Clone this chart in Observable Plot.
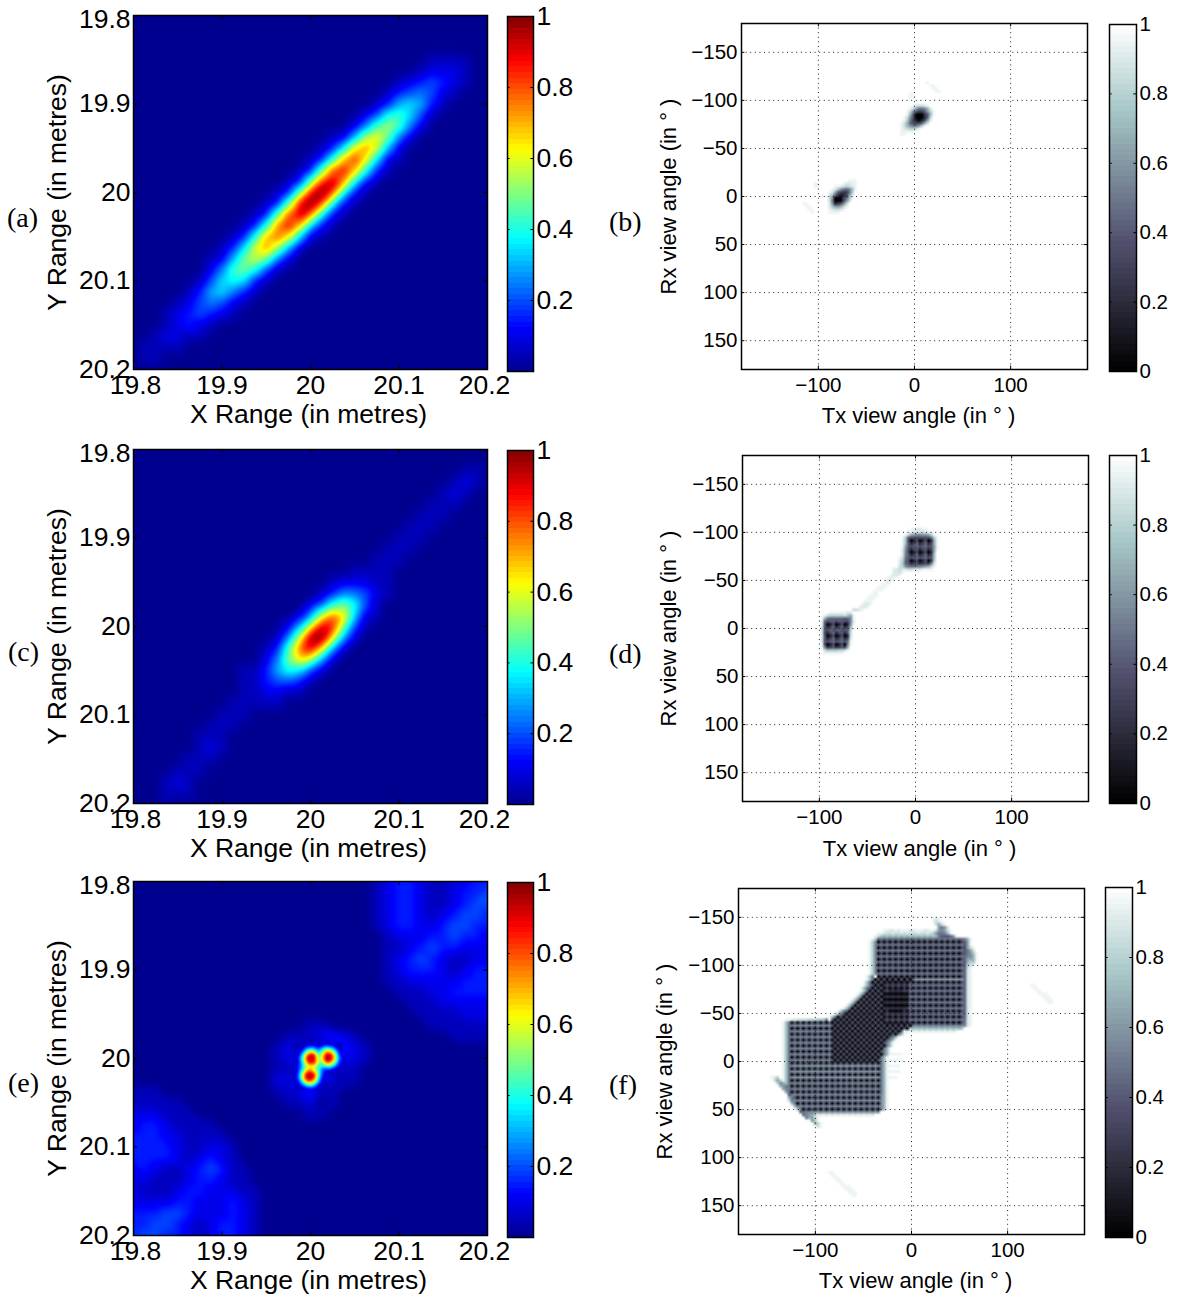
<!DOCTYPE html>
<html><head><meta charset="utf-8">
<script src="https://cdn.jsdelivr.net/npm/d3@7"></script>
<script src="https://cdn.jsdelivr.net/npm/@observablehq/plot@0.6"></script>
<style>
html,body{margin:0;padding:0;background:#fff}
#page{position:relative;width:1177px;height:1297px;overflow:hidden;background:#fff;color:#000}
#page>div{position:absolute}
.tag{font-family:"Liberation Serif",serif;font-size:28px;line-height:28px}
</style></head><body><div id="page"></div>
<script>
// One character per cell: 0..k means 0/20 .. 20/20.
const levels = "0123456789abcdefghijk";
const xRangeTicks = [19.8,19.9,20,20.1,20.2];
const angleTicksX = [-100,0,100];
const angleTicksY = [-150,-100,-50,0,50,100,150];
const jetDomain = [0,.125,.375,.625,.875,1];
const jetRange = ["#00008f","#0000ff","#00ffff","#ffff00","#ff0000","#800000"];
const boneDomain = [0,.375,.75,1];
const boneRange = ["#000000","#51516f","#a6c6c6","#ffffff"];

// [first column, cells] per row, 33 x 33 over 19.8..20.2
const gridA = [[0,""],[0,""],[0,""],[0,""],[27,"1111"],[26,"12221"],[24,"1234321"],[23,"1345421"],[22,"1367631"],
[21,"2489741"],[20,"259b952"],[18,"126bda52"],[17,"137dfc62"],[16,"138ehd721"],[15,"139gie831"],[14,"139gjf831"],
[13,"139hkg831"],[12,"139hkg831"],[11,"139gjf831"],[10,"138fie731"],[9,"138egd721"],[8,"137cfb62"],[7,"126aca52"],
[7,"259a841"],[6,"1478731"],[5,"1367531"],[4,"1245421"],[3,"1234321"],[3,"12321"],[2,"12211"],[1,"1111"],[1,"11"],[0,""]];

const gridC = [[0,""],[0,""],[30,"11"],[29,"121"],[28,"121"],[27,"111"],[26,"111"],[25,"111"],[24,"111"],[23,"111"],[22,"111"],
[20,"1111"],[18,"122211"],[17,"1355421"],[16,"248a841"],[15,"25bfd721"],[14,"26ciha41"],[13,"15bjkd62"],[12,"139fid62"],
[12,"25adb62"],[10,"11368742"],[10,"1134431"],[10,"112211"],[9,"11111"],[8,"111"],[7,"111"],[6,"111"],[6,"121"],[5,"111"],
[4,"111"],[3,"121"],[3,"111"],[3,"1"]];

const gridE = [[21,"012332112233"],[21,"012332112334"],[21,"012332112344"],[21,"012332123443"],[21,"012332234433"],[21,"001222334332"],
[21,"001123433222"],[21,"001234321122"],[21,"001233321233"],[21,"001122222333"],[21,"000111223333"],[21,"000011122222"],
[26,"1111222"],[16,"11000000000111111"],[14,"1112321000000001111"],[13,"121111321"],[13,"121111221"],[13,"11111111"],
[13,"22111111"],[0,"11100000000001123110"],[0,"1111100000000011201"],[0,"222111000000000011"],[0,"2332111100000000"],
[0,"333221111000"],[0,"333321122100"],[0,"333321232100"],[0,"232112343110"],[0,"221112332110"],[0,"211123322211"],[0,"222233222321"],
[0,"333443222321"],[0,"334432123321"],[0,"344332123321"]];

// Finer reading of the three central peaks of (e), 13 x 13 over 19.982..20.036
const patchExtentE = [19.982,20.036];
const patchE = ["1111111111111","1113332354311","1138b959dc831","127eih9ciid51","139hkiadkje62","127eihabgfa41","136bcb9788521",
"138efc8422111","14cikh9321111","14cijg8213111","137deb5212111","1135642111111","1111111111111"];

// Right-hand panels: 120 x 120 cells of 3 degrees, white unless listed. [row, column, cells]
const spansB = [[20,64,"j"],[21,65,"jj"],[22,66,"jj"],[23,67,"jj"],[24,58,"jj"],[25,58,"jj"],
[28,55,"kkkkjihhijkk"],[29,55,"kkkjhdaabeik"],[30,55,"kkjhb8668cgj"],[31,55,"kkje810058ej"],[32,55,"kjhc700048gk"],
[33,55,"kjga63036cik"],[34,55,"jhe97668dhkk"],[35,55,"jhecaacgjkkk"],[36,55,"jihgghjkkkkk"],[37,55,"jjjjjkkkkkkk"],[38,55,"jjkkkkkkkkkk"],
[54,29,"kkkkkkkkjjjk"],[55,29,"kkkkkkjiijjk"],[56,29,"kkkjjihghijk"],[57,29,"kkjifca9bfjk"],[58,29,"kjid8656agkk"],[59,29,"kie95246dikk"],
[60,29,"khb00169fjkk"],[61,29,"kha0017chkkk"],[62,29,"kic468chkkkk"],[63,29,"kifdcehjkkkk"],[64,29,"kjihhijkkkkk"],[65,29,"kjjjjkkkkkkk"],
[62,21,"jj"],[63,22,"jj"],[64,23,"jj"],[65,24,"j"],[55,25,"jj"],[56,25,"jj"]];

const spansD = [[25,58,"jjiijj"],[26,54,"kkkjjiiiiijjkk"],[27,54,"kkjhdcbbccdgjk"],[28,54,"kjg87777777agj"],[29,54,"kjf703703704ej"],
[30,54,"kjf846946947ej"],[31,54,"kjd878978978dj"],[32,54,"kic747847847dj"],[33,54,"kib703703704ek"],
[34,54,"kib846946947fk"],[35,54,"jha878978978fk"],[36,54,"ig9703703705gk"],[37,54,"if985675676bik"],
[38,54,"hgcaaabbcdehjk"],[39,52,"iihiihhiiijjjjkkkk"],
[40,52,"iihj"],[41,51,"jiij"],[42,50,"jij"],[43,49,"jij"],[44,48,"jjj"],[45,47,"jjj"],[46,46,"jjj"],[47,45,"jj"],[48,44,"jjj"],[49,43,"jjj"],[50,42,"jjj"],[51,41,"jiij"],[52,40,"jiij"],[53,38,"hhij"],
[54,26,"kkkkjjjjjjiik"],[55,26,"kkjhggggghfdj"],[56,26,"kkea9999989bj"],[57,26,"kj978878877bi"],[58,26,"kj803703703cj"],
[59,26,"ki846946947ek"],[60,26,"ki879789788gk"],[61,26,"ki747947848hk"],[62,26,"ki803703703hk"],
[63,26,"ki846946947ik"],[64,26,"ki87897897ajk"],[65,26,"kj70370370bjk"],[66,26,"kjb5685686ekk"],
[67,26,"kkhffffgghjkk"],[68,26,"kkjjjjjjjkkkk"]];

// Panel (f): lattice runs [row, first column, last column, "even column cell / odd column cell"]
const runsF = [
[16,49,68,"ef"],[17,48,77,"9a"],
[18,48,77,"07"],[19,48,77,"9a"],[20,48,77,"07"],[21,48,77,"9a"],[22,48,77,"07"],[23,48,77,"9a"],[24,48,77,"07"],[25,48,77,"9a"],
[26,48,77,"07"],[27,48,77,"9a"],[28,48,77,"07"],[29,48,77,"9a"],[30,48,77,"07"],[31,47,60,"80"],[31,61,77,"bc"],
[32,46,49,"08"],[32,50,58,"05"],[32,59,77,"07"],[33,46,49,"80"],[33,50,58,"57"],[33,59,77,"9a"],
[34,45,49,"08"],[34,50,58,"05"],[34,59,77,"07"],[35,45,49,"80"],[35,50,58,"57"],[35,59,77,"9a"],
[36,44,49,"08"],[36,50,58,"05"],[36,59,77,"07"],[37,43,49,"80"],[37,50,58,"57"],[37,59,77,"9a"],
[38,42,49,"08"],[38,50,58,"05"],[38,59,77,"07"],[39,41,49,"80"],[39,50,58,"57"],[39,59,77,"9a"],
[40,40,49,"08"],[40,50,58,"05"],[40,59,77,"07"],[41,39,49,"80"],[41,50,58,"57"],[41,59,77,"9a"],
[42,37,49,"08"],[42,50,58,"05"],[42,59,77,"07"],[43,36,49,"80"],[43,50,58,"57"],[43,59,77,"9a"],
[44,34,49,"08"],[44,50,58,"05"],[44,59,77,"07"],[45,32,49,"80"],[45,50,58,"57"],[45,59,77,"9a"],
[46,18,31,"08"],[46,32,49,"08"],[46,50,58,"05"],[46,59,77,"07"],
[47,18,31,"ab"],[47,32,59,"80"],[47,60,77,"ab"],
[48,18,31,"08"],[48,32,58,"08"],[48,59,77,"ef"],[49,18,31,"ab"],[49,32,56,"80"],[49,57,75,"ij"],
[50,18,31,"08"],[50,32,54,"08"],[51,18,31,"ab"],[51,32,52,"80"],[52,18,31,"08"],[52,32,51,"08"],
[53,18,31,"ab"],[53,32,50,"80"],[54,18,31,"08"],[54,32,50,"08"],[55,18,31,"ab"],[55,32,49,"80"],
[56,18,31,"08"],[56,32,49,"08"],[57,18,31,"ab"],[57,32,49,"80"],[58,18,31,"08"],[58,32,48,"08"],[59,18,31,"ab"],[59,32,48,"80"],
[60,18,48,"08"],[61,18,48,"bc"],[62,18,48,"08"],[63,18,48,"bc"],[64,18,48,"08"],[65,18,48,"bc"],[66,18,48,"08"],
[67,18,48,"ab"],[68,18,48,"08"],[69,18,48,"ab"],[70,18,48,"08"],[71,18,48,"ab"],[72,19,48,"08"],[73,19,48,"ab"],
[74,20,48,"08"],[75,21,48,"ab"],[76,22,48,"08"],[77,26,48,"bc"],[78,28,46,"ij"],
[57,51,56,"jj"],[59,51,56,"jj"],[61,51,55,"jj"],[63,51,55,"jj"],[65,51,54,"jj"],
// darkest part of the join between the two blocks
[35,52,56,"45"],[36,51,57,"01"],[37,50,58,"45"],[38,50,58,"01"],[39,50,58,"45"],[40,50,58,"01"],[41,51,57,"45"],[42,52,56,"01"]];

const spansF = [
[10,67,"jij"],[11,67,"jhij"],[12,68,"hdhj"],[13,69,"cach"],[14,50,"jjiijijjjiijjjiij"],[14,67,"jhcbdhj"],[15,48,"jjihhihhihihhhihhih"],[15,67,"gcaabej"],
[16,47,"jh"],[16,69,"a8889cj"],[17,45,"kjg"],[17,78,"bej"],
[18,45,"jgb"],[18,78,"8dj"],[19,45,"jgb"],[19,78,"8dj"],[20,45,"jgb"],[20,78,"7dhj"],[21,45,"jgb"],[21,78,"8adh"],[22,45,"jgb"],[22,78,"8acfj"],
[23,45,"jgb"],[23,78,"9bbej"],[24,45,"jgb"],[24,78,"9ddej"],[25,45,"jgb"],[25,78,"8egfj"],[26,45,"jgb"],[26,78,"9ghj"],[27,45,"jgb"],[27,78,"9hj"],
[28,45,"jgb"],[28,78,"9ij"],[29,45,"jgb"],[29,78,"9ij"],[30,44,"jfa"],[30,78,"9ij"],[31,44,"jfa"],[31,78,"9ij"],[32,43,"jfa"],[32,78,"9ij"],[33,43,"jfa"],[33,78,"9ij"],
[34,42,"jfa"],[34,78,"9ij"],[35,42,"jfa"],[35,78,"9ij"],[36,41,"jfa"],[36,78,"9ij"],[37,40,"jfa"],[37,78,"9ij"],[38,39,"jfa"],[38,78,"9ij"],[39,38,"jfa"],[39,78,"9ij"],
[40,37,"jfa"],[40,78,"9ij"],[41,36,"jfa"],[41,78,"9ij"],[42,34,"jfa"],[42,78,"9ij"],[43,33,"jfa"],[43,78,"9ij"],[44,31,"jfa"],[44,78,"9ij"],[45,16,"jjiihhhhgggfffa"],[45,78,"aij"],
[46,15,"jfa"],[46,78,"aij"],[47,15,"jfa"],[47,78,"bij"],[48,15,"jfa"],[49,15,"jfa"],[50,15,"jfa"],[50,55,"aej"],[51,15,"jfa"],[51,53,"aej"],[52,15,"jfa"],[52,52,"aej"],
[53,15,"jfa"],[53,51,"aej"],[54,15,"jfa"],[54,51,"aej"],[55,15,"jfa"],[55,50,"aej"],[56,15,"jfa"],[56,50,"aej"],[57,15,"jfa"],[57,50,"aej"],[58,15,"jfa"],[58,49,"aej"],
[59,15,"jfa"],[59,49,"aej"],[60,15,"jfa"],[60,49,"aej"],[61,15,"jfa"],[61,49,"aej"],[62,15,"jfa"],[62,49,"aej"],[63,15,"jfa"],[63,49,"aej"],[64,15,"jfa"],[64,49,"aej"],
[65,11,"jig"],[65,15,"jfa"],[65,49,"aej"],[66,12,"hdg"],[66,15,"jfa"],[66,49,"aej"],[67,13,"gbd"],[67,16,"fa"],[67,49,"aej"],[68,14,"eca"],[68,17,"a"],[68,49,"aej"],
[69,15,"dba"],[69,49,"aej"],[70,16,"ca"],[70,49,"aej"],[71,17,"8"],[71,49,"bej"],[72,17,"ea"],[72,49,"bej"],[73,17,"ha"],[73,49,"bej"],[74,18,"ea"],[74,49,"bej"],
[75,19,"ea"],[75,49,"bej"],[76,20,"ea"],[76,49,"bej"],[77,21,"9aabb"],[78,22,"9bcdgj"],[79,23,"addgj"],[80,25,"cfj"],[81,26,"dgj"],[82,27,"hj"],
[33,101,"jj"],[34,102,"jj"],[35,103,"jj"],[36,104,"jjj"],[37,105,"jjj"],[38,106,"jjj"],[39,107,"jj"],
[98,31,"jj"],[99,32,"jj"],[100,33,"jj"],[101,34,"jj"],[102,35,"jj"],[103,36,"jjj"],[104,37,"jjj"],[105,38,"jjj"],[106,39,"jj"]];

const colorbarSteps = d3.range(64).map(i => (63 - i + .5) / 64);
const leftTicksBar = [.2,.4,.6,.8,1];
const rightTicksBar = [0,.2,.4,.6,.8,1];

const page = document.getElementById("page");
const sans = "'Liberation Sans',Arial,sans-serif";
const baseStyle = {fontFamily: sans, color: "black", background: "transparent", overflow: "visible", maxWidth: "none"};
const val = c => levels.indexOf(c) / 20;
function place(node, left, top) {
  const d = document.createElement("div");
  d.style.left = left + "px"; d.style.top = top + "px";
  d.append(node); page.append(d);
}
function tag(text, left, top) {
  const d = document.createElement("div");
  d.className = "tag"; d.textContent = text;
  d.style.left = left + "px"; d.style.top = top + "px";
  page.append(d);
}
function gridPoints(rows, n, a, b) {
  const out = [];
  for (let j = 0; j < n; ++j) {
    const [start, cells] = rows[j];
    for (let i = 0; i < n; ++i) {
      const c = i >= start && i < start + cells.length ? cells[i - start] : "0";
      out.push({x: a + (b - a) * i / (n - 1), y: a + (b - a) * j / (n - 1), v: val(c)});
    }
  }
  return out;
}
function patchPoints(rows, [a, b]) {
  const n = rows.length, out = [];
  rows.forEach((r, j) => [...r].forEach((c, i) =>
    out.push({x: a + (b - a) * i / (n - 1), y: a + (b - a) * j / (n - 1), v: val(c)})));
  return out;
}
function image(spans, runs = []) {
  const a = new Array(14400).fill(1);
  for (const [r, c1, c2, p] of runs) for (let c = c1; c <= c2; ++c) a[r * 120 + c] = val(p[c % 2]);
  for (const [r, c, s] of spans) [...s].forEach((ch, k) => { a[r * 120 + c + k] = val(ch); });
  return a;
}
function softened(radius) {
  const bary = Plot.interpolatorBarycentric();
  return (index, w, h, X, Y, V) => {
    const W = Float64Array.from(bary(index, w, h, X, Y, V));
    d3.blur2({data: W, width: w, height: h}, radius);
    return W;
  };
}
function innerTicks(xs, ys, lo, hi, len) {
  return [
    Plot.ruleX(xs, {y1: lo, y2: lo + len, stroke: "black"}),
    Plot.ruleX(xs, {y1: hi, y2: hi - len, stroke: "black"}),
    Plot.ruleY(ys, {x1: lo, x2: lo + len, stroke: "black"}),
    Plot.ruleY(ys, {x1: hi, x2: hi - len, stroke: "black"})
  ];
}
function leftPanel(top, points, patch) {
  const box = {x1: 19.8, x2: 20.2, y1: 19.8, y2: 20.2};
  const fs = 26.5;
  const marks = [Plot.raster(points, {x: "x", y: "y", fill: "v", interpolate: softened(3), pixelSize: 1, ...box})];
  if (patch) marks.push(Plot.raster(patch, {x: "x", y: "y", fill: "v", interpolate: softened(1), pixelSize: 1,
    x1: patchExtentE[0], x2: patchExtentE[1], y1: patchExtentE[0], y2: patchExtentE[1]}));
  const xOpt = {anchor: "bottom", tickSize: 0, tickPadding: 6, fontSize: fs, label: null, tickFormat: String};
  const yOpt = {anchor: "left", tickSize: 0, tickPadding: 3, fontSize: fs, label: null, tickFormat: String};
  marks.push(
    ...innerTicks(xRangeTicks, xRangeTicks, 19.8, 20.2, .0045),
    Plot.frame({stroke: "black", strokeWidth: 1.5}),
    Plot.axisX(xRangeTicks.slice(1, 4), xOpt),
    Plot.axisX(xRangeTicks.slice(0, 1), {...xOpt, dx: 2}),
    Plot.axisX(xRangeTicks.slice(4), {...xOpt, dx: -3}),
    Plot.axisY(xRangeTicks.slice(1), yOpt),
    Plot.axisY(xRangeTicks.slice(0, 1), {...yOpt, dy: 4}),
    Plot.text(["X Range (in metres)"], {frameAnchor: "bottom", dx: -2, dy: 45, fontSize: fs, lineAnchor: "middle"}),
    Plot.text(["Y Range (in metres)"], {frameAnchor: "left", rotate: -90, dx: -76, fontSize: fs, textAnchor: "middle", lineAnchor: "middle"})
  );
  const svg = Plot.plot({width: 133 + 354 + 20, height: 20 + 354 + 70, marginLeft: 133, marginRight: 20, marginTop: 20, marginBottom: 70,
    x: {domain: [19.8, 20.2]}, y: {domain: [19.8, 20.2], reverse: true},
    color: {type: "linear", domain: jetDomain, range: jetRange, interpolate: "rgb", clamp: true},
    style: baseStyle, marks});
  place(svg, 0, top - 20);
}
function rightPanel(left, top, cells, xLabelDy, yLabelDx) {
  const box = {x1: -180, x2: 180, y1: -180, y2: 180};
  const svg = Plot.plot({width: 90 + 346 + 5, height: 20 + 346 + 70, marginLeft: 90, marginRight: 5, marginTop: 20, marginBottom: 70,
    x: {domain: [-180, 180]}, y: {domain: [-180, 180], reverse: true},
    color: {type: "linear", domain: boneDomain, range: boneRange, interpolate: "rgb", clamp: true},
    style: baseStyle,
    marks: [
      Plot.raster(cells, {width: 120, height: 120, ...box, imageRendering: "auto"}),
      Plot.gridX(angleTicksX, {stroke: "#222", strokeOpacity: 1, strokeDasharray: "1,3.6"}),
      Plot.gridY(angleTicksY, {stroke: "#222", strokeOpacity: 1, strokeDasharray: "1,3.6"}),
      ...innerTicks(angleTicksX, angleTicksY, -180, 180, 3.5),
      Plot.frame({stroke: "black", strokeWidth: 1.5}),
      Plot.axisX(angleTicksX, {anchor: "bottom", tickSize: 0, tickPadding: 8, fontSize: 20.5, label: null}),
      Plot.axisY(angleTicksY, {anchor: "left", tickSize: 0, tickPadding: 4, fontSize: 20.5, label: null}),
      Plot.text(["Tx view angle (in ° )"], {frameAnchor: "bottom", dx: 4, dy: xLabelDy, fontSize: 22, lineAnchor: "middle"}),
      Plot.text(["Rx view angle (in ° )"], {frameAnchor: "left", rotate: -90, dx: yLabelDx, fontSize: 22, textAnchor: "middle", lineAnchor: "middle"})
    ]});
  place(svg, left - 90, top - 20);
}
function colorbar(left, top, w, h, domain, range, ticks, fs) {
  const svg = Plot.plot({width: w + 60, height: h + 30, marginLeft: 10, marginRight: 50, marginTop: 15, marginBottom: 15,
    x: {domain: [0, 1], axis: null}, y: {domain: [0, 1]},
    color: {type: "linear", domain, range, interpolate: "rgb", clamp: true},
    style: baseStyle,
    marks: [
      Plot.raster(colorbarSteps, {width: 1, height: 64, x1: 0, x2: 1, y1: 1, y2: 0, imageRendering: "pixelated"}),
      Plot.ruleY(ticks, {x1: 0, x2: .1, stroke: "black"}),
      Plot.ruleY(ticks, {x1: 1, x2: .9, stroke: "black"}),
      Plot.frame({stroke: "black", strokeWidth: 1.5}),
      Plot.axisY(ticks, {anchor: "right", tickSize: 0, tickPadding: 3, fontSize: fs, label: null, tickFormat: String})
    ]});
  place(svg, left - 10, top - 15);
}

leftPanel(15, gridPoints(gridA, 33, 19.8, 20.2));
leftPanel(449, gridPoints(gridC, 33, 19.8, 20.2));
leftPanel(881, gridPoints(gridE, 33, 19.8, 20.2), patchPoints(patchE, patchExtentE));
rightPanel(741, 23, image(spansB), 46, -73);
rightPanel(742, 455, image(spansD), 47, -74);
rightPanel(738, 888, image(spansF, runsF), 46, -74);
colorbar(507, 16, 26, 355, jetDomain, jetRange, leftTicksBar, 26.5);
colorbar(507, 450, 26, 354, jetDomain, jetRange, leftTicksBar, 26.5);
colorbar(507, 882, 26, 355, jetDomain, jetRange, leftTicksBar, 26.5);
colorbar(1109, 24, 27, 347, boneDomain, boneRange, rightTicksBar, 20.5);
colorbar(1109, 455, 27, 348, boneDomain, boneRange, rightTicksBar, 20.5);
colorbar(1105, 887, 27, 350, boneDomain, boneRange, rightTicksBar, 20.5);
tag("(a)", 7, 204); tag("(b)", 609, 208);
tag("(c)", 8, 638); tag("(d)", 609, 640);
tag("(e)", 8, 1069); tag("(f)", 609, 1071);
</script></body></html>
